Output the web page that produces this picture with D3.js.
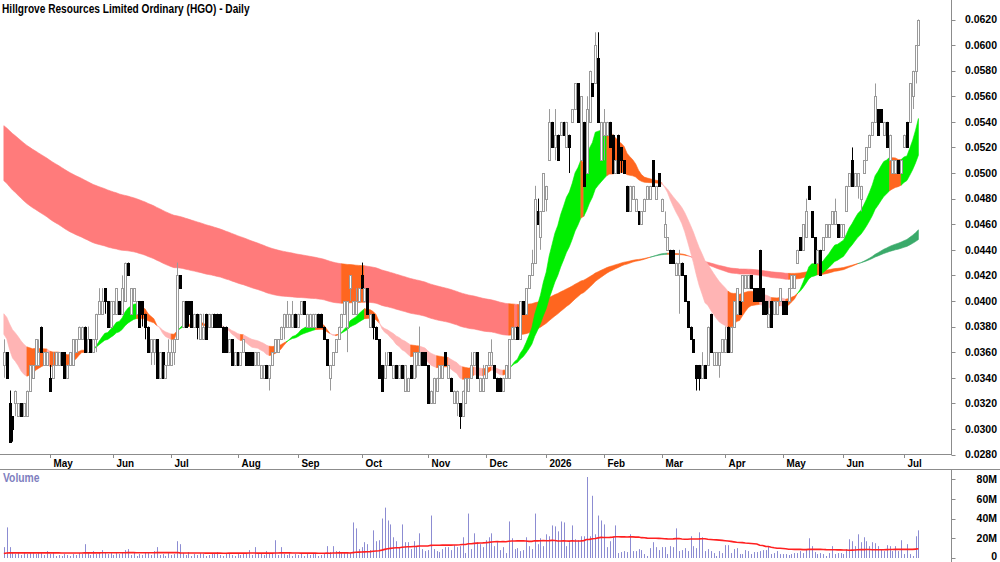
<!DOCTYPE html>
<html>
<head>
<meta charset="utf-8">
<script src="https://cdn.jsdelivr.net/npm/d3@7"></script>
<style>
  body { margin: 0; background: #fff; }
  svg { display: block; font-family: "Liberation Sans", Arial, sans-serif; }
</style>
</head>
<body>
<svg id="chart" width="1000" height="562"></svg>
<script>
// prices are in tenths of a cent (1 = $0.001), one row per trading day: [open, high, low, close]
const candles = [
  [35,37,34,36],[36,36,34,34],[32,33,29,29],[31,31,29,30],[32,33,31,33],[31,32,31,32],[32,32,31,31],[31,32,31,32],[31,33,31,33],[33,35,33,35],
  [34,35,34,35],[35,37,35,37],[35,37,35,36],[38,38,36,36],[35,36,35,36],[35,36,35,36],[34,35,33,33],[34,36,34,35],[35,36,35,36],[35,36,35,36],
  [36,36,35,35],[36,36,34,34],[34,35,34,35],[35,36,35,36],[35,37,35,37],[36,37,36,37],[37,38,37,38],[37,38,37,38],[38,38,36,36],[36,38,36,37],
  [37,37,36,36],[36,37,36,37],[37,39,36,39],[39,41,39,40],[39,41,39,40],[41,41,39,40],[40,40,38,38],[38,40,38,40],[39,40,39,40],[39,41,39,41],
  [40,40,39,39],[39,42,39,41],[40,43,40,43],[43,43,42,42],[39,41,39,41],[40,41,40,41],[39,40,39,40],[40,40,38,38],[40,40,38,39],[39,39,37,38],
  [38,38,36,36],[36,37,35,37],[36,37,35,37],[37,37,34,34],[34,36,34,36],[36,36,34,34],[34,35,34,35],[35,37,35,36],[35,37,35,36],[36,37,35,37],
  [37,43,37,42],[42,42,41,41],[38,40,38,40],[40,40,38,38],[40,40,38,39],[40,40,38,38],[38,39,38,39],[39,39,37,38],[37,39,37,39],[37,39,37,38],
  [39,39,37,37],[38,39,38,39],[38,39,38,39],[39,39,38,38],[39,39,38,38],[39,39,38,38],[38,38,36,36],[38,38,36,36],[36,37,36,37],[37,37,35,35],
  [35,36,35,36],[36,36,35,35],[35,36,35,36],[36,37,36,37],[36,36,35,35],[36,36,35,35],[36,36,35,35],[35,36,35,36],[35,36,35,36],[34,35,34,35],
  [34,35,34,35],[35,35,34,34],[34,35,33,35],[35,36,35,36],[36,37,36,37],[36,37,36,37],[37,38,37,38],[38,39,37,39],[38,40,38,39],[38,39,38,39],
  [38,40,38,39],[39,39,38,38],[38,39,38,39],[39,40,39,40],[40,40,39,39],[38,39,38,39],[38,39,38,39],[38,39,38,39],[38,39,38,39],[39,39,38,38],
  [39,39,38,38],[38,38,37,37],[37,37,35,35],[34,35,33,35],[35,36,35,36],[36,37,36,37],[37,38,37,38],[38,39,38,39],[39,40,39,40],[38,40,36,40],
  [41,42,40,42],[39,40,39,40],[39,41,39,40],[40,41,40,41],[42,43,41,41],[40,41,40,41],[41,41,39,39],[38,39,38,39],[39,39,37,38],[38,38,37,37],
  [37,37,34,34],[35,35,33,33],[34,36,34,35],[35,36,35,36],[36,36,35,35],[34,35,34,35],[35,35,34,34],[34,35,34,35],[35,35,34,34],[33,35,33,35],
  [33,34,33,34],[35,35,34,34],[34,36,34,36],[35,36,34,36],[35,38,35,36],[36,36,35,35],[36,36,35,35],[35,35,32,32],[32,33,32,33],[32,34,32,34],
  [33,34,33,34],[34,35,34,35],[34,35,34,35],[36,36,35,35],[34,35,34,35],[34,34,33,33],[32,33,32,33],[32,33,31,33],[32,32,30,31],[31,33,31,33],
  [32,34,32,34],[33,34,33,34],[34,36,34,35],[35,36,35,36],[36,36,34,34],[33,34,33,34],[33,35,33,34],[34,35,34,35],[35,36,35,36],[35,37,35,36],
  [35,35,34,34],[34,34,33,33],[34,34,33,33],[33,34,33,34],[34,35,34,35],[34,37,34,37],[37,38,37,38],[37,38,37,38],[38,38,37,37],[37,40,37,40],
  [40,40,39,39],[39,41,39,41],[41,42,41,42],[42,44,42,43],[43,49,43,48],[47,48,46,46],[45,47,44,47],[47,50,47,50],[48,49,47,49],[51,55,51,54],
  [54,54,52,52],[52,55,51,53],[53,53,51,51],[53,54,53,54],[54,54,53,53],[52,54,52,54],[53,53,50,52],[54,55,54,55],[55,57,55,57],[57,57,54,54],
  [51,56,51,56],[54,54,49,49],[50,56,50,55],[54,58,54,58],[57,57,56,56],[57,61,57,60],[59,61,54,54],[51,54,51,54],[53,55,51,54],[53,54,53,54],
  [54,54,52,52],[53,53,50,50],[50,51,50,51],[53,53,50,50],[52,52,50,51],[51,51,50,50],[49,49,47,47],[47,49,47,49],[48,49,48,49],[47,48,47,48],
  [47,47,46,46],[46,47,46,47],[47,48,47,48],[48,49,48,49],[48,49,48,49],[51,51,49,49],[48,49,48,49],[50,50,49,49],[47,48,47,48],[45,47,45,46],
  [44,45,44,45],[44,44,43,43],[44,44,43,43],[42,43,42,43],[42,44,39,43],[43,43,42,42],[42,42,40,40],[40,40,38,38],[38,38,37,37],[37,37,36,36],
  [35,35,33,34],[35,35,33,34],[34,36,34,35],[35,35,34,34],[35,38,35,38],[39,39,36,36],[35,36,35,36],[35,36,35,36],[35,36,34,36],[36,37,36,37],
  [36,38,36,37],[38,38,36,36],[36,38,36,38],[38,40,38,40],[39,41,39,41],[40,40,39,39],[40,42,40,42],[41,42,41,42],[41,42,41,42],[42,42,41,41],
  [41,41,40,40],[41,41,40,40],[44,44,40,40],[41,41,39,39],[40,40,39,39],[38,40,38,39],[40,40,38,38],[39,40,39,40],[39,40,39,40],[40,41,40,41],
  [40,40,39,39],[40,40,39,39],[40,41,40,41],[41,42,41,42],[41,42,41,42],[43,44,43,44],[45,45,44,44],[44,46,44,46],[45,48,45,47],[49,49,48,48],
  [47,47,45,45],[45,45,43,43],[43,44,43,44],[44,44,42,42],[44,45,44,45],[45,46,45,46],[45,46,45,46],[46,47,46,47],[46,48,46,47],[46,46,45,45],
  [45,46,45,46],[45,46,45,46],[47,49,47,49],[49,50,49,50],[51,52,49,49],[49,50,49,50],[49,50,48,50],[48,49,47,49],[50,51,50,51],[51,52,51,52],
  [52,53,52,53],[53,54,53,54],[54,57,54,56],[55,55,53,53],[55,55,54,54],[53,54,53,54],[54,54,52,52],[51,53,51,53],[50,51,50,51],[50,51,50,51],
  [51,51,50,50],[50,51,50,51],[52,53,52,53],[54,54,52,52],[54,57,54,57],[56,58,55,58],[58,60,57,60],[60,62,60,62]
];

// daily volume, millions of shares
const volumes = [
  11,31,11,5,4,6,3,5,4,6, 5,4,6,5,3,7,4,5,2,3, 2,4,3,2,4,3,5,4,14,5, 3,7,4,6,8,5,4,6,3,5,
  4,6,8,9,3,5,2,4,3,6, 5,3,7,11,3,4,2,5,3,4, 17,14,5,3,6,2,4,3,5,4, 2,3,5,4,6,3,2,4,5,3,
  2,4,3,5,4,8,3,11,4,5, 3,7,4,5,18,3,11,4,3,5, 2,4,3,5,2,4,3,5,4,2, 3,5,12,6,12,7,7,5,5,6,
  5,36,30,9,11,16,14,8,28,17, 18,40,51,38,34,21,17,11,34,16, 16,9,17,11,25,9,7,8,43,9, 7,6,9,11,11,8,13,11,12,21,
  5,45,9,25,16,14,11,18,21,25, 12,16,8,11,5,37,20,9,10,7, 8,21,12,9,45,14,20,12,24,22, 33,32,27,37,36,12,16,33,19,18,
  22,22,82,22,63,24,43,38,34,11, 17,21,33,5,6,7,6,24,7,7, 9,8,4,2,10,16,11,8,11,11, 4,12,11,30,7,8,10,7,22,12,
  10,26,21,7,9,7,5,2,7,5, 13,13,5,9,10,4,4,8,7,4, 6,6,7,8,8,12,4,5,7,4, 4,4,3,4,5,5,7,5,9,20,
  12,6,4,5,4,2,5,12,4,5, 5,4,9,19,17,12,24,16,21,17, 12,16,15,12,9,7,13,12,7,12, 7,18,4,14,4,2,22,28
];

// trading days in each month shown, and the month labels (first month is partial, unlabelled)
const monthBars = [16,22,20,23,21,22,23,20,21,20,20,22,20,21,21,6];
const monthLabels = ["", "May","Jun","Jul","Aug","Sep","Oct","Nov","Dec","2026","Feb","Mar","Apr","May","Jun","Jul"];

const priceTicks = [28,30,32,34,36,38,40,42,44,46,48,50,52,54,56,58,60,62];
const volumeTicks = [0,20,40,60,80];

// moving average settings (period, value carried in from before the first bar)
const shortFast = {n: 18, seed: 37.4}, shortSlow = {n: 36, seed: 39.0};
const longFast = {n: 150, seed: 49.4}, longSlow = {n: 220, seed: 53.7};
const volAvg = {n: 60, prior: 4.5};

const svg = d3.select("#chart");
const axisX = 951.5;

let x = d3.scaleLinear().domain([16, 312]).range([50, 904]);
let y = d3.scaleLinear().domain([28, 62]).range([454.5, 19.5]);
let yv = d3.scaleLinear().domain([0, 80]).range([558, 479]);

function ema(vals, n, seed) {
  let a = 2 / (n + 1), e = seed;
  return vals.map((v, i) => i === 0 ? e : (e = e + a * (v - e)));
}

function sma(vals, n, prior) {
  return vals.map((v, i) => {
    let s = 0;
    for (let k = i - n + 1; k <= i; k++) s += k < 0 ? prior : vals[k];
    return s / n;
  });
}

// squeeze text horizontally, the original uses a narrow face
function narrow(sel, k) {
  sel.each(function () {
    let w = this.getComputedTextLength();
    d3.select(this).attr("textLength", w * k).attr("lengthAdjust", "spacingAndGlyphs");
  });
}

let closes = candles.map(d => d[3]);
let sF = ema(closes, shortFast.n, shortFast.seed),
    sS = ema(closes, shortSlow.n, shortSlow.seed),
    lF = ema(closes, longFast.n, longFast.seed),
    lS = ema(closes, longSlow.n, longSlow.seed);

// colour each day of a ribbon by its state, then draw runs of equal colour
function drawRibbon(fast, slow, colUp, colMid, colDown) {
  let state = fast.map((f, i) => {
    let rising = i > 0 ? f > fast[i - 1] : false;
    if (f > slow[i] && rising) return colUp;
    if (f < slow[i] && !rising) return colDown;
    return colMid;
  });
  let area = d3.area()
    .x(i => x(i))
    .y0(i => y(slow[i]))
    .y1(i => y(fast[i]));
  let last = fast.length - 1;
  let s = 0;
  while (s < last) {
    let c = state[s + 1];
    let e = s + 1;
    while (e < last && state[e + 1] === c) e++;
    svg.append("path")
      .attr("d", area(d3.range(s, e + 1)))
      .attr("fill", c)
      .attr("stroke", c)
      .attr("stroke-width", 0.6);
    s = e;
  }
}

drawRibbon(lF, lS, "#3aaa6a", "#ff661f", "#ff7b7b");
drawRibbon(sF, sS, "#00ee00", "#ff661f", "#ffb4b4");

// candles
let cg = svg.append("g");
candles.forEach((d, i) => {
  let [o, h, l, c] = d;
  let cx = Math.round(x(i));
  let up = c >= o;
  let col = up ? "#9a9a9a" : "#000";
  cg.append("line")
    .attr("x1", cx + 0.5).attr("x2", cx + 0.5)
    .attr("y1", y(h)).attr("y2", y(l))
    .attr("stroke", col).attr("stroke-width", 1);
  let top = Math.round(y(Math.max(o, c))), bot = Math.round(y(Math.min(o, c)));
  cg.append("rect")
    .attr("x", cx - 0.5)
    .attr("y", top + 0.5)
    .attr("width", 2)
    .attr("height", Math.max(1, bot - top))
    .attr("fill", up ? "#fff" : "#000")
    .attr("stroke", col)
    .attr("stroke-width", 1);
});

// frame lines
svg.append("line").attr("x1", 0).attr("x2", axisX).attr("y1", 454.5).attr("y2", 454.5).attr("stroke", "#8c8c8c");
svg.append("line").attr("x1", 0).attr("x2", 1000).attr("y1", 469.5).attr("y2", 469.5).attr("stroke", "#8c8c8c");
svg.append("line").attr("x1", axisX).attr("x2", axisX).attr("y1", 0).attr("y2", 455).attr("stroke", "#8c8c8c");
svg.append("line").attr("x1", axisX).attr("x2", axisX).attr("y1", 469).attr("y2", 562).attr("stroke", "#8c8c8c");

// price axis
let ya = svg.append("g");
priceTicks.forEach(p => {
  ya.append("line").attr("x1", axisX).attr("x2", axisX + 4).attr("y1", Math.round(y(p)) + 0.5).attr("y2", Math.round(y(p)) + 0.5).attr("stroke", "#8c8c8c");
  ya.append("text")
    .attr("x", 997).attr("y", y(p)).attr("dy", "0.36em")
    .attr("text-anchor", "end")
    .style("font-size", "10.5px").style("font-weight", "bold")
    .text((p / 1000).toFixed(4));
});

// month axis
let start = 0;
monthBars.forEach((n, k) => {
  if (k > 0) {
    let tx = Math.round(x(start)) + 0.5;
    svg.append("line").attr("x1", tx).attr("x2", tx).attr("y1", 455).attr("y2", 458).attr("stroke", "#8c8c8c");
    svg.append("text")
      .attr("class", "lbl")
      .attr("x", tx + 3).attr("y", 467)
      .style("font-size", "11.5px").style("font-weight", "bold")
      .text(monthLabels[k]);
  }
  start += n;
});

// volume panel
svg.append("text").attr("x", 3).attr("y", 482)
  .attr("class", "lbl")
  .style("font-size", "12px").style("font-weight", "bold").attr("fill", "#8080c0")
  .text("Volume");

volumeTicks.forEach(v => {
  svg.append("line").attr("x1", axisX).attr("x2", axisX + 4).attr("y1", Math.round(yv(v)) + 0.5).attr("y2", Math.round(yv(v)) + 0.5).attr("stroke", "#8c8c8c");
  svg.append("text")
    .attr("x", 997).attr("y", yv(v)).attr("dy", v === 0 ? "0.2em" : "0.36em")
    .attr("text-anchor", "end")
    .style("font-size", "10.5px").style("font-weight", "bold")
    .text(v === 0 ? "0" : v + "M");
});

svg.append("g").selectAll("line")
  .data(volumes.slice(0, candles.length))
  .enter().append("line")
  .attr("x1", (d, i) => Math.round(x(i)) + 0.5)
  .attr("x2", (d, i) => Math.round(x(i)) + 0.5)
  .attr("y1", yv(0))
  .attr("y2", d => yv(d))
  .attr("stroke", "#8c8cd2")
  .attr("stroke-width", 1);

let vAvg = sma(volumes.slice(0, candles.length), volAvg.n, volAvg.prior);
svg.append("path")
  .datum(vAvg)
  .attr("d", d3.line().x((d, i) => x(i)).y(d => yv(d)))
  .attr("fill", "none")
  .attr("stroke", "#ff2020")
  .attr("stroke-width", 1.6);

// title
svg.append("text").attr("x", 2).attr("y", 13)
  .attr("class", "title")
  .style("font-size", "12.5px").style("font-weight", "bold")
  .text("Hillgrove Resources Limited Ordinary (HGO) - Daily");

narrow(svg.selectAll(".lbl"), 0.86);
narrow(svg.selectAll(".title"), 0.81);
</script>
</body>
</html>
